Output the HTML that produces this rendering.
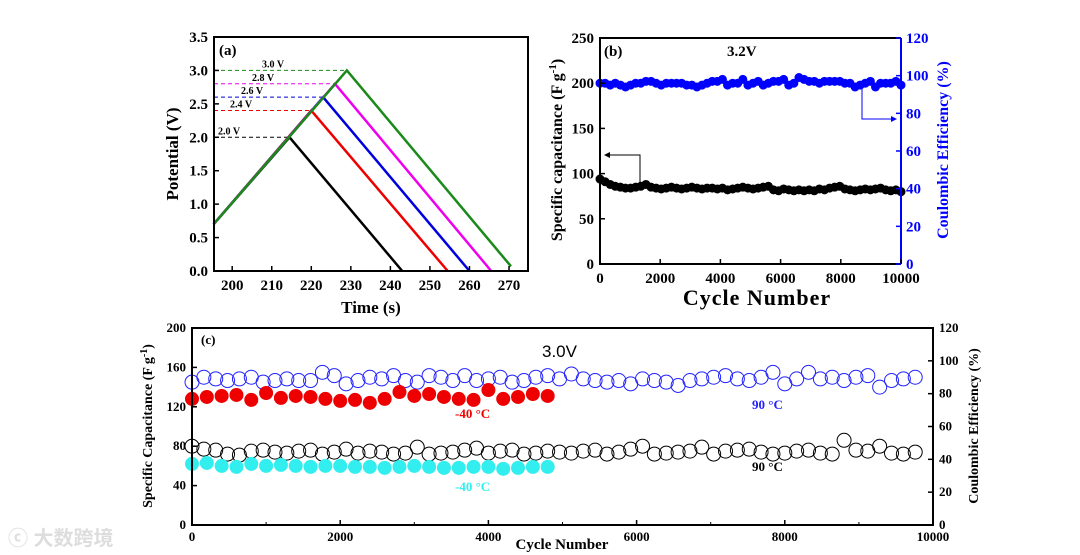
<!DOCTYPE html>
<html><head><meta charset="utf-8"><style>
html,body{margin:0;padding:0;background:#fff;}
svg{display:block;font-family:"Liberation Serif",serif;font-weight:bold;}
</style></head><body>
<svg id="s" width="1080" height="555" viewBox="0 0 1080 555" xmlns="http://www.w3.org/2000/svg">
<text x="8" y="545" font-family="Liberation Sans,'Noto Sans CJK SC',sans-serif" font-size="20" fill="#ddd">ⓒ 大数跨境</text>
</svg>
<script>
// ===== Panel (a) data =====
const aCurvesT = [[195.3,214.5,243],[195.3,220,254.5],[195.3,223,260],[195.3,226,265.5],[195.3,229,270.5]];
const aCurvesV = [[0.7,2.0,0],[0.7,2.4,0],[0.7,2.6,0],[0.7,2.8,0],[0.7,3.0,0.07]];
const aColors = ["#000","#e00","#00d","#e0e","#1a8a1a"];
const aLabels = ["2.0 V","2.4 V","2.6 V","2.8 V","3.0 V"];
const aXTicks = [200,210,220,230,240,250,260,270];
const aYTicks = [0,0.5,1.0,1.5,2.0,2.5,3.0,3.5];
// ===== Panel (b) data =====
const bCap = [94,91,88,86,85,84,84,85,86,88,85,84,83,84,85,84,83,84,85,84,83,84,84,83,84,82,83,84,85,84,83,84,85,86,82,81,83,82,81,82,81,82,81,83,82,84,85,86,83,82,81,82,83,82,83,84,82,81,82,80];
const bCE = [96,96,95,96,95,94,95,96,96,97,97,96,95,96,96,96,96,95,95,94,95,96,97,97,98,95,96,96,98,95,96,97,95,96,97,97,98,95,96,99,98,97,97,96,97,97,97,97,96,96,94,95,96,97,94,96,96,96,97,95];
const bXTicks = [0,2000,4000,6000,8000,10000];
const bYTicks = [0,50,100,150,200,250];
const bY2Ticks = [0,20,40,60,80,100,120];
// ===== Panel (c) data =====
const cRed = [128,130,131,132,127,134,129,131,130,128,126,127,124,128,135,131,133,130,128,127,137,128,130,133,131];
const cCyan = [62,63,60,59,62,60,61,60,59,60,60,59,59,58,59,60,59,58,58,59,59,57,58,59,59];
const cBlueCE = [87,90,89,88,89,90,87,88,89,88,88,93,91,86,88,90,89,91,88,87,91,90,88,91,88,89,90,87,88,90,91,89,92,89,88,87,88,86,89,88,87,85,88,89,90,91,89,88,90,93,86,89,93,89,90,88,90,91,84,88,89,90];
const cBlack = [80,77,76,72,71,75,76,74,73,75,76,72,74,77,73,75,74,72,73,79,72,73,74,76,78,73,75,76,72,73,75,74,73,75,76,72,74,77,80,72,73,74,75,79,72,75,76,77,74,72,73,75,76,73,72,86,76,75,80,73,72,74];
const cXTicks = [0,2000,4000,6000,8000,10000];
const cYTicks = [0,40,80,120,160,200];
const cY2Ticks = [0,20,40,60,80,100,120];

const NS="http://www.w3.org/2000/svg", S=document.getElementById('s');
function el(tag,attrs,parent,text){const e=document.createElementNS(NS,tag);for(const k in attrs)e.setAttribute(k,attrs[k]);if(text!==undefined)e.textContent=text;(parent||S).appendChild(e);return e;}
function lin(d0,d1,r0,r1){return v=>r0+(v-d0)/(d1-d0)*(r1-r0);}

// ---------- Panel (a) ----------
{
const g=el('g',{});
const X=lin(195.4,274.8,214,528), Y=lin(0,3.5,271,37);
aCurvesT.forEach((ts,i)=>{
  const p=el('polyline',{points:ts.map((t,j)=>X(t)+','+Y(aCurvesV[i][j])).join(' '),fill:'none',stroke:aColors[i],'stroke-width':2.5},g);
  
  
  const d=el('line',{x1:214,x2:X(ts[1]),y1:Y(aCurvesV[i][1]),y2:Y(aCurvesV[i][1]),stroke:aColors[i],'stroke-width':1,'stroke-dasharray':'4,3'},g);
  
  
  const lx=[218,230,241,252,262][i];
  const t=el('text',{x:lx,y:Y(aCurvesV[i][1])-3,'font-size':10},g,aLabels[i]);
  
  
});
el('rect',{x:214,y:37,width:314,height:234,fill:'none',stroke:'#000','stroke-width':2},g);
aXTicks.forEach(v=>{el('line',{x1:X(v),x2:X(v),y1:271,y2:266,stroke:'#000','stroke-width':1.5},g);
  el('text',{x:X(v),y:290,'font-size':15,'text-anchor':'middle'},g,v);});
aYTicks.forEach(v=>{el('line',{x1:214,x2:219,y1:Y(v),y2:Y(v),stroke:'#000','stroke-width':1.5},g);
  el('text',{x:208,y:Y(v)+5,'font-size':15,'text-anchor':'end'},g,v.toFixed(1));});
const xt=el('text',{x:371,y:313,'font-size':17,'text-anchor':'middle'},g,'Time (s)');

const yt=el('text',{x:0,y:0,'font-size':17,'text-anchor':'middle',transform:'translate(178,154) rotate(-90)'},g,'Potential (V)');

el('text',{x:219,y:55,'font-size':15},g,'(a)');
}

// ---------- Panel (b) ----------
{
const g=el('g',{});
const X=lin(0,10000,600,901), Y=lin(0,250,264,38), Y2=lin(0,120,264,38);
const n=bCap.length;
bCE.forEach((v,i)=>{const c=el('circle',{cx:X(i*10000/(n-1)),cy:Y2(v),r:4.5,fill:'#00f'},g);
  });
bCap.forEach((v,i)=>{const c=el('circle',{cx:X(i*10000/(n-1)),cy:Y(v),r:4.5,fill:'#000'},g);
  });
el('polyline',{points:'640,187 640,155 606,155',fill:'none',stroke:'#000','stroke-width':1},g);
el('path',{d:'M604,155 l6,-3 v6z',fill:'#000'},g);
el('polyline',{points:'862,86 862,119 894,119',fill:'none',stroke:'#00f','stroke-width':1},g);
el('path',{d:'M897,119 l-6,-3 v6z',fill:'#00f'},g);
el('line',{x1:901,x2:901,y1:38,y2:264,stroke:'#00f','stroke-width':2},g);
el('polyline',{points:'901,38 600,38 600,264 901,264',fill:'none',stroke:'#000','stroke-width':2},g);
bXTicks.forEach(v=>{el('line',{x1:X(v),x2:X(v),y1:264,y2:259,stroke:'#000','stroke-width':1.5},g);
  el('text',{x:X(v),y:283,'font-size':15,'text-anchor':'middle'},g,v);});
bYTicks.forEach(v=>{el('line',{x1:600,x2:605,y1:Y(v),y2:Y(v),stroke:'#000','stroke-width':1.5},g);
  el('text',{x:594,y:Y(v)+5,'font-size':15,'text-anchor':'end'},g,v);});
bY2Ticks.forEach(v=>{el('line',{x1:901,x2:896,y1:Y2(v),y2:Y2(v),stroke:'#00f','stroke-width':1.5},g);
  el('text',{x:906,y:Y2(v)+5,'font-size':15,fill:'#00f'},g,v);});
const xt=el('text',{x:757,y:305,'font-size':22,'text-anchor':'middle','letter-spacing':'1'},g,'Cycle Number');

const yt=el('text',{x:0,y:0,'font-size':16,'text-anchor':'middle',transform:'translate(562,150) rotate(-90)'},g);
yt.innerHTML='Specific capacitance (F g<tspan dy="-6" font-size="11">-1</tspan><tspan dy="6">)</tspan>';

const y2=el('text',{x:0,y:0,'font-size':16,'text-anchor':'middle',fill:'#00f',transform:'translate(948,150) rotate(-90)'},g,'Coulombic Efficiency (%)');

el('text',{x:604,y:56,'font-size':15},g,'(b)');
el('text',{x:727,y:56,'font-size':15},g,'3.2V');
}

// ---------- Panel (c) ----------
{
const g=el('g',{});
const X=lin(0,10000,192,933), Y=lin(0,200,525,328), Y2=lin(0,120,525,328);
const step=160;
cBlueCE.forEach((v,i)=>{const c=el('circle',{cx:X(i*step),cy:Y2(v),r:7,fill:'none',stroke:'#22f','stroke-width':1},g);
  });
cBlack.forEach((v,i)=>{const c=el('circle',{cx:X(i*step),cy:Y(v),r:7,fill:'none',stroke:'#000','stroke-width':1},g);
  });
cRed.forEach((v,i)=>{const c=el('circle',{cx:X(i*200),cy:Y(v),r:7,fill:'#e00'},g);
  });
cCyan.forEach((v,i)=>{const c=el('circle',{cx:X(i*200),cy:Y(v),r:7,fill:'#3ee'},g);
  });
el('rect',{x:192,y:328,width:741,height:197,fill:'none',stroke:'#000','stroke-width':2},g);
cXTicks.forEach(v=>{el('line',{x1:X(v),x2:X(v),y1:525,y2:520,stroke:'#000','stroke-width':1.5},g);
  el('text',{x:X(v),y:541,'font-size':13,'text-anchor':'middle'},g,v);});
[1000,3000,5000,7000,9000].forEach(v=>el('line',{x1:X(v),x2:X(v),y1:525,y2:522,stroke:'#000'},g));
cYTicks.forEach(v=>{el('line',{x1:192,x2:197,y1:Y(v),y2:Y(v),stroke:'#000','stroke-width':1.5},g);
  el('text',{x:186,y:Y(v)+4,'font-size':13,'text-anchor':'end'},g,v);});
cY2Ticks.forEach(v=>{el('line',{x1:933,x2:928,y1:Y2(v),y2:Y2(v),stroke:'#000','stroke-width':1.5},g);
  el('text',{x:939,y:Y2(v)+4,'font-size':13},g,v);});
const xt=el('text',{x:562,y:549,'font-size':15,'text-anchor':'middle'},g,'Cycle Number');

const yt=el('text',{x:0,y:0,'font-size':14,'text-anchor':'middle',transform:'translate(152,426) rotate(-90)'},g);
yt.innerHTML='Specific Capacitance (F g<tspan dy="-5" font-size="10">-1</tspan><tspan dy="5">)</tspan>';

const y2=el('text',{x:0,y:0,'font-size':14,'text-anchor':'middle',transform:'translate(978,426) rotate(-90)'},g,'Coulombic Efficiency (%)');

el('text',{x:201,y:344,'font-size':13},g,'(c)');
el('text',{x:542,y:357,'font-size':17,'font-weight':'normal','font-family':'Liberation Sans,sans-serif'},g,'3.0V');
el('text',{x:455,y:418,'font-size':13,fill:'#e00'},g,'-40 °C');
el('text',{x:752,y:409,'font-size':13,fill:'#22f'},g,'90 °C');
el('text',{x:752,y:471,'font-size':13,fill:'#000'},g,'90 °C');
el('text',{x:455,y:491,'font-size':13,fill:'#3ee'},g,'-40 °C');
}
</script>
</body></html>
